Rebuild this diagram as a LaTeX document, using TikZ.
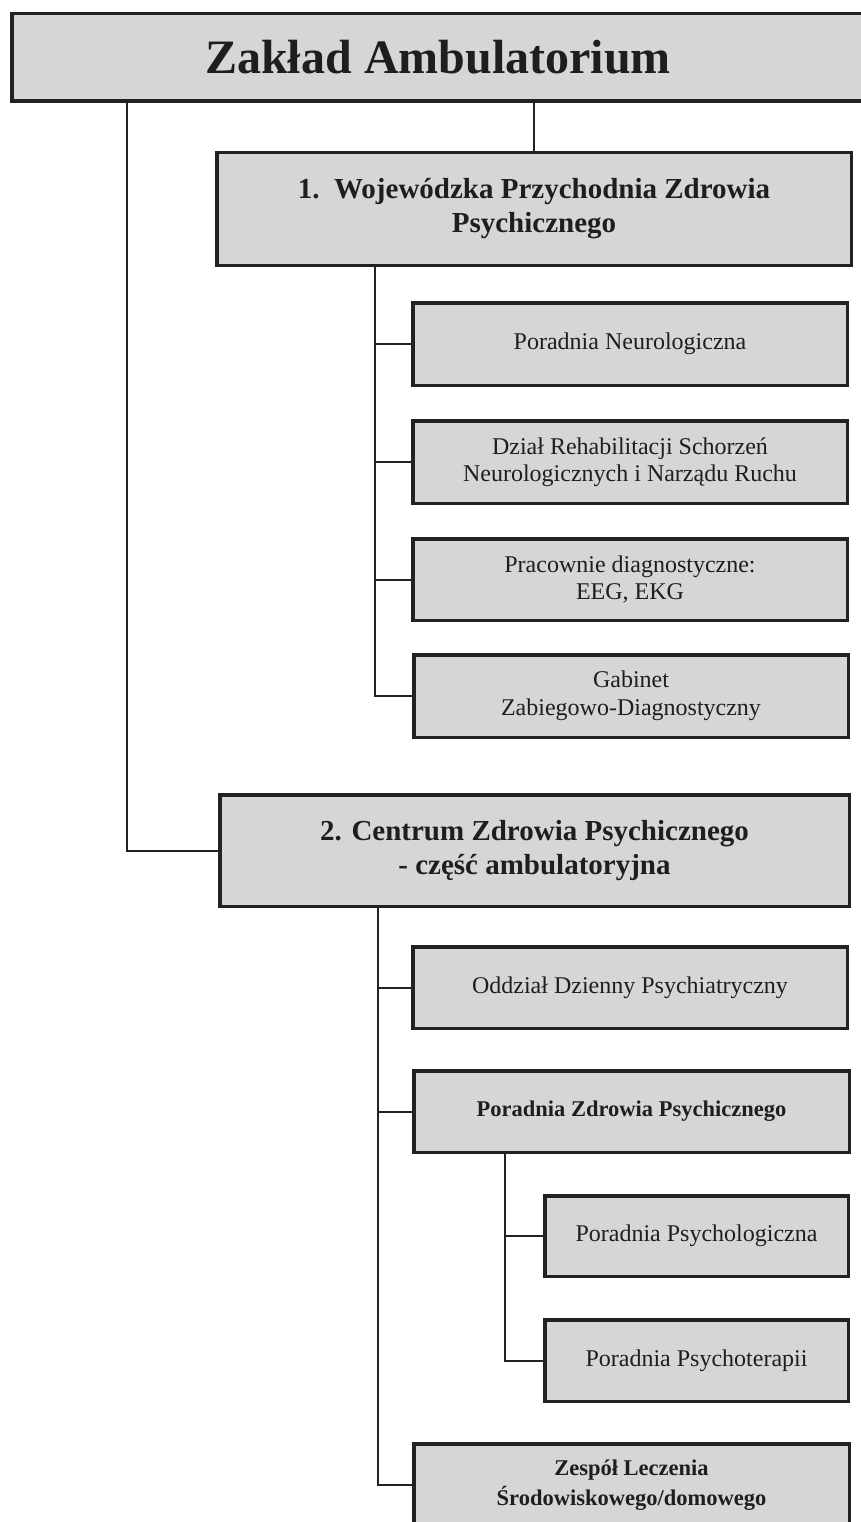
\documentclass[tikz,border=0pt]{standalone}
\usepackage{fontspec}
\setmainfont{Liberation Serif}
\definecolor{boxfill}{RGB}{214,214,214}
\definecolor{boxline}{RGB}{34,34,34}
\definecolor{txt}{RGB}{30,30,30}
\tikzset{
  box/.style={draw=boxline, fill=boxfill, line width=3.5pt, inner sep=0pt, align=center, text=txt},
  lvlzero/.style={box, font=\fontsize{48}{56}\selectfont\bfseries},
  lvlone/.style={box, font=\fontsize{29}{34}\selectfont\bfseries},
  lvltwo/.style={box, font=\fontsize{24}{27.5}\selectfont},
  lvltwob/.style={box, font=\fontsize{22.5}{30}\selectfont\bfseries},
  link/.style={draw=boxline, line width=2pt},
}
\begin{document}
\begin{tikzpicture}[x=1pt,y=-1pt]
\useasboundingbox[fill=white] (0,0) rectangle (861,1522);
% top
\node[lvlzero, minimum width=852.5pt, minimum height=87.5pt] (top) at (438,57.5) {Zakład Ambulatorium};
% level 1
\node[lvlone, minimum width=634.5pt, minimum height=112.5pt] (b1) at (534,209) {1.~\ Wojewódzka Przychodnia Zdrowia\\Psychicznego};
\node[lvlone, minimum width=629.5pt, minimum height=111.5pt] (b2) at (534.5,850.5) {2. Centrum Zdrowia Psychicznego\\- część ambulatoryjna};
% children of b1
\node[lvltwo, minimum width=434.5pt, minimum height=82.5pt] (c1) at (630,344) {Poradnia Neurologiczna};
\node[lvltwo, minimum width=434.5pt, minimum height=82.5pt] (c2) at (630,462) {Dział Rehabilitacji Schorzeń\\Neurologicznych i Narządu Ruchu};
\node[lvltwo, minimum width=434.5pt, minimum height=81.5pt] (c3) at (630,579.5) {Pracownie diagnostyczne:\\EEG, EKG};
\node[lvltwo, minimum width=434.5pt, minimum height=82.5pt] (c4) at (631,696) {Gabinet\\Zabiegowo-Diagnostyczny};
% children of b2
\node[lvltwo, minimum width=434.5pt, minimum height=81.5pt] (d1) at (630,987.5) {Oddział Dzienny Psychiatryczny};
\node[lvltwob, minimum width=435.5pt, minimum height=81.5pt] (d2) at (631.5,1111.5) {Poradnia Zdrowia Psychicznego};
\node[lvltwo, minimum width=303.5pt, minimum height=80.5pt] (e1) at (696.5,1236) {Poradnia Psychologiczna};
\node[lvltwo, minimum width=303.5pt, minimum height=81.5pt] (e2) at (696.5,1360.5) {Poradnia Psychoterapii};
\node[lvltwob, minimum width=435.5pt, minimum height=82.5pt] (d3) at (631.5,1485) {Zespół Leczenia\\Środowiskowego/domowego};
% connectors
\coordinate (ta) at (127,103);
\coordinate (tb) at (375,267);
\coordinate (tc) at (378,908);
\coordinate (td) at (505,1154);
\draw[link] (b1.north) -- (b1.north |- top.south);
\draw[link] (ta) |- (b2.west);
\draw[link] (tb) |- (c4.west);
\draw[link] (c1.west) -- (c1.west -| tb);
\draw[link] (c2.west) -- (c2.west -| tb);
\draw[link] (c3.west) -- (c3.west -| tb);
\draw[link] (tc) |- (d3.west);
\draw[link] (d1.west) -- (d1.west -| tc);
\draw[link] (d2.west) -- (d2.west -| tc);
\draw[link] (td) |- (e2.west);
\draw[link] (e1.west) -- (e1.west -| td);
\end{tikzpicture}
\end{document}
